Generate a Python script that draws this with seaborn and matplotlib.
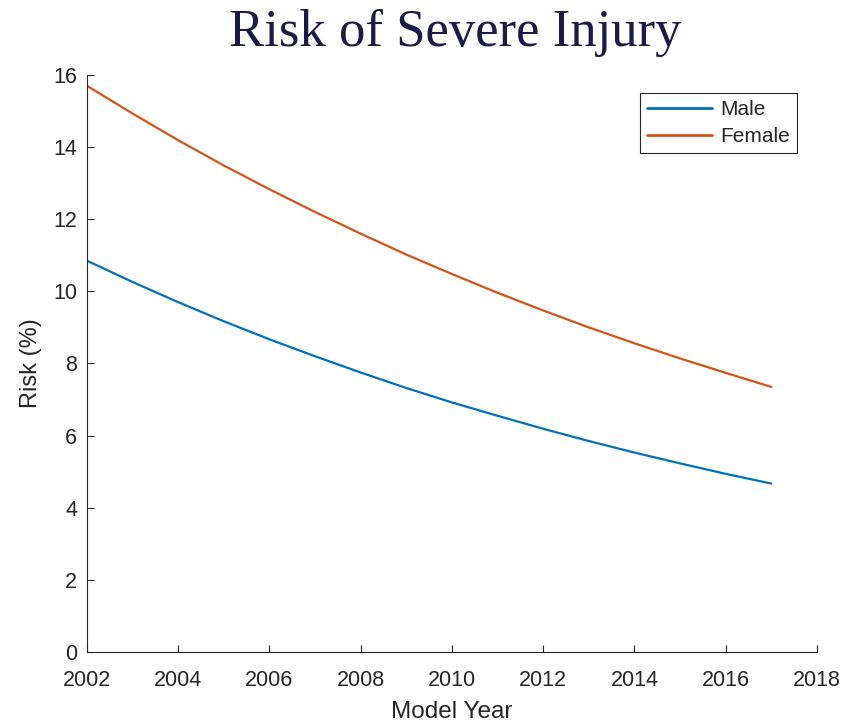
import pandas as pd
import matplotlib
matplotlib.use("Agg")
import matplotlib.pyplot as plt
import seaborn as sns

# values
years = list(range(2002, 2018))
male_risk = [10.85, 10.26, 9.70, 9.17, 8.67, 8.20, 7.75, 7.32,
             6.92, 6.55, 6.19, 5.85, 5.53, 5.23, 4.94, 4.67]
female_risk = [15.70, 14.93, 14.19, 13.49, 12.83, 12.20, 11.60, 11.02,
               10.48, 9.96, 9.47, 9.00, 8.56, 8.14, 7.74, 7.35]
series_names = ["Male", "Female"]
series_colors = ["#0072BD", "#D95319"]
x_ticks = list(range(2002, 2019, 2))
y_ticks = list(range(0, 17, 2))

# long format for seaborn
df = pd.DataFrame({
    "Model Year": years * 2,
    "Risk": male_risk + female_risk,
    "Sex": ["Male"] * len(years) + ["Female"] * len(years),
})

sns.set_style("ticks")
plt.rcParams["font.family"] = ["Liberation Sans", "DejaVu Sans"]
plt.rcParams["xtick.direction"] = "in"
plt.rcParams["ytick.direction"] = "in"

fig = plt.figure(figsize=(8.41, 7.23), dpi=100)
ax = fig.add_axes([0.1034, 0.0982, 0.868, 0.7981])

sns.lineplot(data=df, x="Model Year", y="Risk", hue="Sex",
             hue_order=series_names, palette=series_colors,
             linewidth=1.6, ax=ax)

ax.set_xlim(2002, 2018)
ax.set_ylim(0, 16)
ax.set_xticks(x_ticks)
ax.set_yticks(y_ticks)
ax.tick_params(axis="both", labelsize=15.5, length=5, width=0.8,
               colors="#262626", labelcolor="#262626")
ax.tick_params(axis="x", pad=13)
ax.tick_params(axis="y", pad=7)
ax.set_xlabel("Model Year", fontsize=17.5, color="#262626", labelpad=7)
ax.set_ylabel("Risk (%)", fontsize=17, color="#262626", labelpad=8)
sns.despine(ax=ax)
for s in ["left", "bottom"]:
    ax.spines[s].set_color("#262626")
    ax.spines[s].set_linewidth(0.8)

leg = ax.legend(loc="upper right", bbox_to_anchor=(0.9726, 0.969),
                borderaxespad=0, fontsize=15, frameon=True, fancybox=False,
                framealpha=1, edgecolor="#262626", handlelength=3.1,
                borderpad=0.35, labelspacing=0.38, handletextpad=0.4)
leg.get_frame().set_linewidth(0.8)
for line in leg.get_lines():
    line.set_linewidth(2.0)

fig.text(0.541, 0.955, "Risk of Severe Injury", ha="center", va="center",
         fontsize=38, color="#1b1b4b", family=["Liberation Serif", "DejaVu Serif"])

fig.savefig("out.png", dpi=100)
